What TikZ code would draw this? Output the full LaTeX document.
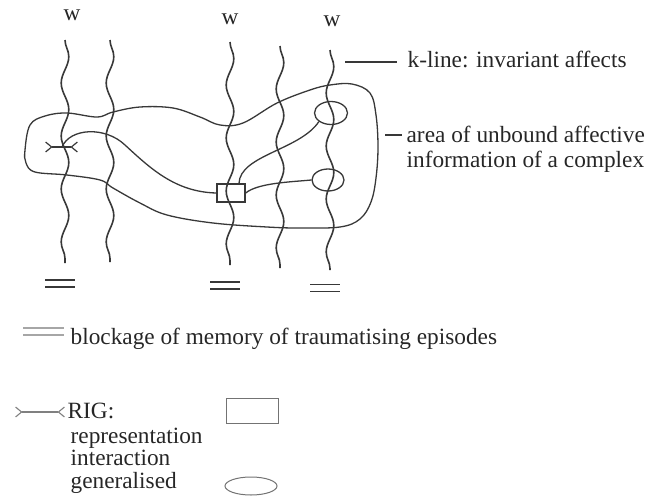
\documentclass[tikz,border=0pt]{standalone}
\usepackage{fontspec}
\setmainfont{Liberation Serif}
\usetikzlibrary{arrows.meta,calc,positioning,decorations.pathmorphing,shapes.geometric}

\tikzset{
  wline/.style={decorate,decoration={snake,segment length=53,amplitude=3.8},line width=1.6pt},
  lbl/.style={font=\fontsize{23.3}{25}\selectfont,text=black!85,inner sep=0pt,align=left},
  blk/.style={line width=1.2pt},
  rigbox/.style={draw,line width=1.3pt,minimum width=28pt,minimum height=18pt,inner sep=0pt},
  rigoval/.style={draw,line width=1.3pt,ellipse,inner sep=0pt},
}

\begin{document}
\begin{tikzpicture}[x=1pt,y=-1pt,>={Straight Barb[length=6pt,width=10pt]},line width=1.3pt,color=black!78]
  \useasboundingbox (0,0) rectangle (656,496);
  % the w-lines
  \foreach \x/\yt/\yb [count=\i] in {65/40/263,110/40/262,230/42/265,280/46/268,330/50/270}
    \draw[wline] (\x,\yt) coordinate (w\i) -- (\x,\yb) coordinate (b\i);
  \node[lbl,anchor=base] (w1lbl) at (72,20) {w};
  \node[lbl,anchor=base] (w3lbl) at (230,24) {w};
  \node[lbl,anchor=base] (w5lbl) at (332,26) {w};
  % blockages
  \foreach \x/\y in {60/283.5,225/285.5,325/288}{
    \draw[blk] (\x-15,\y-3.5) -- +(30,0);
    \draw[blk] (\x-15,\y+3.5) -- +(30,0);
  }
  % area of unbound affective information
  \draw plot[smooth cycle,tension=0.6] coordinates {
    (25,150) (30,125) (45,116) (67,113) (97,117) (113,112) (140,107) (173,108)
    (200,117) (220,125) (243,123) (277,103) (310,90) (330,85) (352,84) (370,93)
    (376,115) (378,147) (376,178) (371,202) (360,219) (340,227) (300,228) (267,227)
    (213,223) (167,215) (140,203) (113,188) (100,180) (67,175) (35,172) (26,163)};
  % RIGs
  \node[rigbox] (rig) at (231,193) {};
  \node[rigoval,minimum width=33pt,minimum height=23pt] (ovup) at (331,113) {};
  \node[rigoval,minimum width=32pt,minimum height=22pt] (ovlo) at (328,180) {};
  \coordinate (ridge) at (62,147);
  \draw[>-<,line width=1.2pt] (45,147) -- (78,147);
  \draw (ridge) .. controls (70,128) and (105,126) .. (125,145)
    .. controls (150,168) and (175,192) .. (rig.west);
  \draw (rig.east) .. controls (258,183) and (290,182) .. (ovlo.west);
  \draw ($(rig.north)+(8,0)$) .. controls (240,155) and (300,150) .. (ovup.south west);
  % labels on the right
  \coordinate (kl) at (345,62);
  \draw (kl) -- (397,62) coordinate (kr);
  \node[lbl,anchor=base west] (klbl) at (407,67) {k-line: invariant affects};
  \coordinate (al) at (385,135);
  \draw (al) -- (402,135) coordinate (ar);
  \node[lbl,anchor=base west] (albl) at (406,167) {area of unbound affective\\information of a complex};
  % legend
  \draw[blk,black!35] (23,328) -- (64,328);
  \draw[blk,black!35] (23,335) -- (64,335);
  \node[lbl,anchor=base west] (blbl) at (70,344) {blockage of memory of traumatising episodes};
  \draw[>-<,line width=1.1pt,black!50] (15,412) -- (65,412);
  \node[lbl,anchor=base west] (riglbl) at (67,418) {RIG:};
  \node[lbl,anchor=base west,font=\fontsize{23.3}{22.5}\selectfont] (riglines) at (70,488)
    {representation\\interaction\\generalised};
  \node[draw,line width=1pt,black!55,minimum width=52pt,minimum height=25pt,inner sep=0pt] (legrect) at (252.5,410.5) {};
  \node[draw,line width=1pt,black!55,ellipse,minimum width=52pt,minimum height=18pt,inner sep=0pt] (legov) at (251,486) {};
\end{tikzpicture}
\end{document}
